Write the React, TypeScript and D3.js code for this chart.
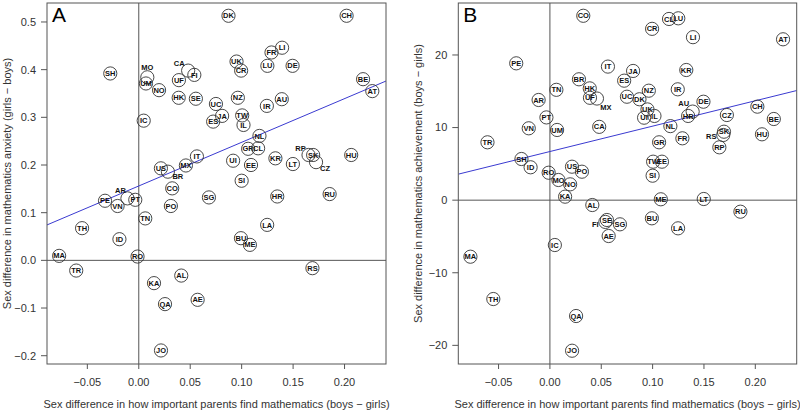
import React from "react";
import * as d3 from "d3";

const countries = ["SH","MO","UM","NO","IC","CA","FI","UF","HK","SE","DK","CH","LI","FR","UK","CR","LU","DE","BE","AT","NZ","UC","AU","IR","JA","ES","TW","IL","NL","IT","MX","US","BR","CO","PO","AR","PE","VN","PT","TN","TH","ID","MA","RO","GR","CL","UI","EE","KR","LT","RP","SK","CZ","HU","SI","SG","HR","RU","LA","BU","ME","RS","TR","AL","KA","QA","AE","JO"];

// Sex difference in how important parents find mathematics (boys - girls)
const parentImportance = [-0.0277,0.0083,0.007,0.0197,0.0048,0.048,0.054,0.039,0.0388,0.0555,0.0872,0.202,0.1393,0.129,0.095,0.0995,0.125,0.1495,0.218,0.227,0.0963,0.075,0.139,0.1245,0.081,0.0723,0.1005,0.1018,0.1173,0.0565,0.0458,0.0215,0.0283,0.0325,0.0312,-0.011,-0.0328,-0.0206,-0.0034,0.0063,-0.0551,-0.0188,-0.0774,-0.0012,0.1063,0.116,0.0917,0.1091,0.1328,0.1498,0.165,0.1695,0.1723,0.2065,0.1,0.0682,0.1346,0.1855,0.1248,0.0993,0.108,0.1688,-0.0608,0.0413,0.0148,0.0255,0.0572,0.0216];

// Sex difference in mathematics anxiety (girls - boys)
const anxietyDiff = [0.392,0.384,0.371,0.357,0.293,0.398,0.389,0.378,0.341,0.339,0.513,0.513,0.446,0.436,0.417,0.398,0.408,0.408,0.38,0.355,0.341,0.328,0.338,0.324,0.303,0.291,0.304,0.284,0.261,0.218,0.199,0.193,0.186,0.151,0.114,0.13,0.125,0.114,0.127,0.088,0.0675,0.0444,0.0094,0.008,0.234,0.235,0.209,0.2,0.214,0.202,0.221,0.221,0.206,0.221,0.167,0.132,0.134,0.139,0.0744,0.0465,0.0325,-0.0164,-0.0214,-0.0319,-0.0478,-0.0918,-0.0828,-0.189];

// Sex difference in mathematics achievement (boys - girls)
const achievementDiff = [5.67,2.78,9.67,2.18,-6.18,10.1,-3.0,14.1,15.4,-2.73,13.9,12.88,22.45,8.52,12.5,23.6,25.05,13.56,11.18,22.16,15.08,14.25,12.2,15.27,17.8,16.46,5.3,11.6,10.2,18.4,14.0,4.61,16.65,25.4,3.92,13.8,18.85,9.9,11.4,15.2,-13.62,4.53,-7.79,3.78,7.97,24.96,11.36,5.3,17.93,0.16,7.28,9.43,11.73,9.07,3.37,-3.33,11.6,-1.59,-3.88,-2.5,0.12,8.98,7.97,-0.67,0.48,-15.96,-4.94,-20.74];

const xTicks = [-0.05, 0, 0.05, 0.1, 0.15, 0.2];
const anxietyTicks = [-0.2, -0.1, 0, 0.1, 0.2, 0.3, 0.4, 0.5];
const achievementTicks = [-20, -10, 0, 10, 20];

// fitted regression lines: [intercept, slope]
const anxietyFit = [0.156, 0.916];
const achievementFit = [6.7, 34.96];

const xTitle = "Sex difference in how important parents find mathematics (boys \u2212 girls)";

// label displacement (px) for labels drawn beside their circle
const offsetsA: Record<string, [number, number]> = {
  MO: [0, -10], CA: [-9, -7], BR: [10, 5], AR: [-7, -8], RP: [-8, -7], CZ: [9, 6],
};
const offsetsB: Record<string, [number, number]> = {
  MX: [9, 9], AU: [-9, -8], RS: [-12, 1], FI: [-10, 2],
};

const FONT = "'Liberation Sans', Arial, Helvetica, sans-serif";

type PanelProps = {
  letter: string;
  left: number; right: number; top: number; bottom: number;
  yDomain: [number, number];
  ys: number[];
  yTicks: number[];
  yFmt: (v: number) => string;
  yTitle: string;
  yTitleX: number;
  fit: number[];
  offsets: Record<string, [number, number]>;
};

function Panel(p: PanelProps) {
  const x = d3.scaleLinear().domain([-0.0892, 0.2403]).range([p.left, p.right]);
  const y = d3.scaleLinear().domain(p.yDomain).range([p.bottom, p.top]);
  const xf = d3.format(".2f");
  const [x0, x1] = x.domain();
  const line = d3.line<number>().x((d) => x(d)).y((d) => y(p.fit[0] + p.fit[1] * d));
  const axisCol = "#555";
  const cx = (p.left + p.right) / 2;
  const cy = (p.top + p.bottom) / 2;
  return (
    <g fontFamily={FONT}>
      <defs>
        <clipPath id={"clip" + p.letter}>
          <rect x={p.left} y={p.top} width={p.right - p.left} height={p.bottom - p.top} />
        </clipPath>
      </defs>
      {/* zero lines */}
      <line x1={x(0)} x2={x(0)} y1={p.top} y2={p.bottom} stroke={axisCol} strokeWidth={1} />
      <line x1={p.left} x2={p.right} y1={y(0)} y2={y(0)} stroke={axisCol} strokeWidth={1} />
      {/* regression */}
      <path d={line([x0, x1]) || ""} stroke="#3a3ad0" strokeWidth={1} fill="none" clipPath={`url(#clip${p.letter})`} />
      {/* points */}
      {countries.map((c, i) => {
        const px = x(parentImportance[i]);
        const py = y(p.ys[i]);
        const off = p.offsets[c] || [0, 0];
        return (
          <g key={c}>
            <circle cx={px} cy={py} r={6.6} fill="none" stroke="#333" strokeWidth={0.9} />
            <text x={px + off[0]} y={py + off[1]} dy="0.35em" textAnchor="middle" fontSize={7.5} fontWeight="bold" fill="#111">{c}</text>
          </g>
        );
      })}
      {/* box */}
      <rect x={p.left} y={p.top} width={p.right - p.left} height={p.bottom - p.top} fill="none" stroke={axisCol} strokeWidth={1} />
      {/* x axis */}
      {xTicks.map((t) => (
        <g key={"x" + t}>
          <line x1={x(t)} x2={x(t)} y1={p.bottom} y2={p.bottom + 5} stroke={axisCol} />
          <text x={x(t)} y={386} textAnchor="middle" fontSize={11} fill="#333">{xf(t)}</text>
        </g>
      ))}
      {/* y axis */}
      {p.yTicks.map((t) => (
        <g key={"y" + t}>
          <line x1={p.left - 6} x2={p.left} y1={y(t)} y2={y(t)} stroke={axisCol} />
          <text x={p.left - 11} y={y(t)} dy="0.35em" textAnchor="end" fontSize={11} fill="#333">{p.yFmt(t)}</text>
        </g>
      ))}
      <text x={cx} y={408} textAnchor="middle" fontSize={11} fill="#333">{xTitle}</text>
      <text transform={`translate(${p.yTitleX},${cy}) rotate(-90)`} textAnchor="middle" fontSize={11} fill="#333">{p.yTitle}</text>
      <text x={p.left + 5} y={22} fontSize={21} fill="#000">{p.letter}</text>
    </g>
  );
}

export default function App() {
  const f1 = d3.format(".1f");
  const f0 = d3.format("d");
  return (
    <svg width={800} height={413} style={{ position: "absolute", left: 0, top: 0, background: "#fff" }}>
      <rect x={0} y={0} width={800} height={413} fill="#fff" />
      <Panel
        letter="A" left={47} right={386} top={3} bottom={364}
        yDomain={[-0.2174, 0.5398]} ys={anxietyDiff} yTicks={anxietyTicks} yFmt={f1}
        yTitle={"Sex difference in mathematics anxiety (girls \u2212 boys)"} yTitleX={11}
        fit={anxietyFit} offsets={offsetsA}
      />
      <Panel
        letter="B" left={458.3} right={796.7} top={3} bottom={364}
        yDomain={[-22.57, 27.16]} ys={achievementDiff} yTicks={achievementTicks} yFmt={f0}
        yTitle={"Sex difference in mathematics achievement (boys \u2212 girls)"} yTitleX={422}
        fit={achievementFit} offsets={offsetsB}
      />
    </svg>
  );
}
